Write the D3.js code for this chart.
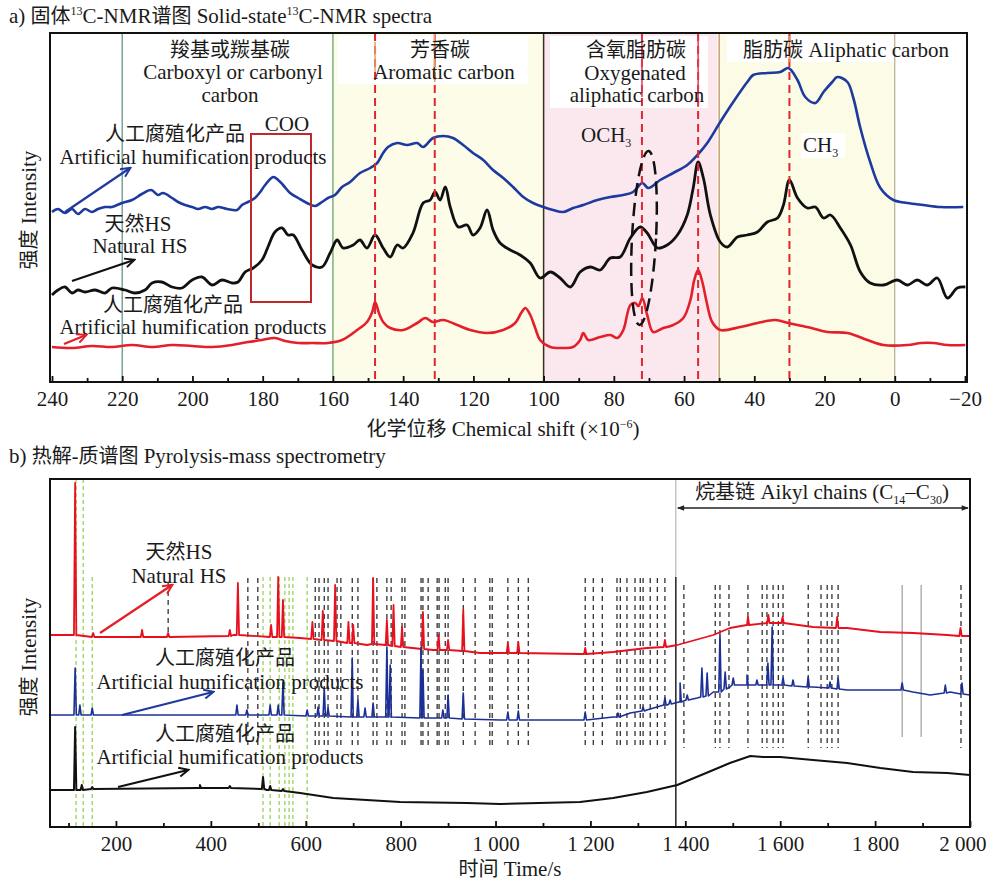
<!DOCTYPE html>
<html>
<head>
<meta charset="utf-8">
<script src="https://cdn.jsdelivr.net/npm/d3@7"></script>
<style>
  body { margin: 0; background: #fff; }
  svg { font-family: "Liberation Serif", "Noto Sans CJK SC", serif; font-size: 21px; }
  text { fill: #1a1a1a; }
</style>
</head>
<body>
<div id="chart"></div>
<script>
// ---------- a) solid-state 13C-NMR, [ppm, intensity] ----------
const nmrArtificialTop = [[240.0,170],[238.3,173],[236.3,169],[234.3,173],[232.6,168],[230.6,173],[228.6,170],[226.9,173],[224.9,175],[222.9,175],[220.1,179],[217.2,182],[214.4,188],[211.8,192],[209.8,187],[208.4,189],[205.8,184],[204.1,180],[202.1,177],[200.1,175],[198.4,173],[196.4,175],[194.4,173],[192.7,175],[190.1,173],[187.3,172],[185.9,177],[184.2,180],[182.2,184],[180.7,190],[179.3,197],[177.0,205],[175.6,202],[174.2,197],[172.2,189],[169.9,184],[167.4,179],[165.1,176],[163.1,180],[161.4,184],[159.4,187],[157.4,195],[155.1,200],[152.3,209],[149.4,214],[147.4,219],[145.7,229],[144.3,235],[141.7,239],[138.9,237],[136.0,239],[134.3,235],[131.5,244],[128.6,246],[125.8,244],[122.9,237],[120.1,229],[117.2,222],[114.4,212],[111.5,204],[108.7,195],[105.8,185],[103.0,179],[100.1,175],[97.3,172],[94.4,170],[91.6,174],[88.7,177],[84.7,182],[81.0,185],[77.3,187],[74.5,190],[71.9,199],[70.2,194],[66.8,202],[63.1,209],[59.1,217],[56.2,227],[53.4,239],[49.7,260],[46.0,280],[42.0,300],[40.3,307],[36.3,309],[32.6,310],[30.3,314],[27.7,302],[25.5,285],[22.6,279],[20.3,290],[17.8,300],[16.4,305],[13.5,300],[11.8,284],[9.8,254],[7.0,220],[4.1,194],[0.4,182],[-3.6,179],[-8.1,177],[-13.0,175],[-19.5,175]];

const nmrNatural = [[240.0,87],[238.3,92],[236.3,95],[234.3,89],[232.6,92],[230.6,90],[227.7,92],[224.9,89],[222.9,94],[219.2,92],[216.4,89],[213.5,92],[211.5,99],[208.7,100],[205.8,95],[203.0,94],[200.1,102],[197.3,105],[194.4,97],[191.6,102],[188.7,99],[187.0,100],[185.0,110],[182.7,114],[180.2,122],[178.5,135],[176.5,150],[174.5,154],[172.8,147],[171.3,147],[168.8,132],[165.9,117],[163.1,115],[160.8,129],[158.8,142],[157.1,134],[154.2,137],[152.3,142],[150.3,134],[148.0,147],[145.7,134],[143.7,125],[141.7,137],[140.0,134],[137.2,149],[134.3,179],[132.3,182],[130.9,190],[129.5,182],[128.0,195],[126.6,175],[124.3,155],[121.8,157],[120.1,147],[118.1,154],[116.1,172],[114.4,152],[112.4,139],[109.5,132],[106.7,127],[103.8,119],[101.0,104],[98.1,110],[95.3,104],[92.4,95],[89.6,110],[86.7,115],[83.9,112],[81.0,124],[78.2,125],[75.3,144],[72.5,155],[70.5,149],[67.6,134],[64.8,137],[61.9,147],[59.1,167],[57.4,194],[56.0,220],[54.5,204],[52.5,167],[49.7,140],[47.7,135],[44.8,145],[42.0,147],[39.1,150],[36.3,160],[33.4,164],[31.7,177],[30.0,202],[27.7,184],[24.9,174],[22.6,175],[20.3,164],[18.3,167],[15.5,154],[12.6,137],[9.8,110],[7.0,99],[3.2,97],[-0.7,102],[-3.6,97],[-6.4,102],[-9.3,97],[-12.1,104],[-15.0,84],[-17.8,94],[-20.1,95]];

const nmrArtificialLow = [[240.0,35],[234.3,34],[228.6,36],[222.9,35],[217.2,37],[211.5,35],[205.8,37],[200.1,36],[194.4,35],[188.7,37],[184.2,40],[180.2,42],[176.5,44],[173.6,41],[169.9,39],[165.9,39],[161.4,39],[157.4,42],[153.1,52],[150.3,60],[148.8,70],[148.0,80],[146.8,68],[145.7,60],[143.7,54],[140.0,52],[136.0,59],[133.7,64],[131.5,60],[128.6,62],[124.6,57],[120.9,52],[116.1,49],[111.5,52],[108.1,59],[106.4,69],[105.2,74],[103.8,67],[102.4,54],[101.0,42],[98.1,35],[94.4,34],[91.6,35],[89.6,42],[88.7,49],[87.3,42],[83.9,45],[81.0,47],[79.0,44],[77.3,52],[75.3,77],[73.9,79],[73.0,76],[71.9,84],[70.5,67],[68.8,50],[65.9,54],[63.1,57],[60.2,64],[58.2,82],[57.1,102],[56.0,112],[54.8,100],[53.7,82],[52.0,60],[49.7,52],[44.0,55],[39.1,59],[34.0,62],[30.3,59],[24.9,55],[19.2,50],[13.5,49],[7.8,42],[3.2,37],[-3.6,37],[-7.5,39],[-11.0,39],[-15.0,37],[-20.1,37]];

const nmrPeakLines = [148, 131, 72, 56, 30];
const nmrRegionLines = [220, 160, 100, 50, 0];
const nmrTicks = [240, 220, 200, 180, 160, 140, 120, 100, 80, 60, 40, 20, 0, -20];
const nmrTickLabels = ["240", "220", "200", "180", "160", "140", "120", "100", "80", "60", "40", "20", "0", "\u221220"];
const nmrMinorTicks = [230, 210, 190, 170, 150, 130, 110, 90, 70, 50, 30, 10, -10];

// ---------- b) pyrolysis-mass spectrometry ----------
// baselines [time, intensity] and peaks [time, base, top]
const pyNaturalBase = [[61,192],[166,190],[272,190],[447,192],[588,189],[729,182],[868,177],[967,174],[1178,173],[1248,175],[1319,179],[1383,182],[1459,192],[1494,199],[1530,202],[1600,204],[1669,200],[1741,199],[1811,195],[1880,194],[1952,192],[2000,191]];
const pyNaturalPeaks = [[114,192,344],[152,190,194],[255,190,197],[310,190,194],[440,191,197],[457,192,244],[527,190,202],[542,190,250],[552,190,227],[614,188,205],[636,187,216],[662,186,242],[690,184,205],[700,184,202],[742,183,249],[771,182,207],[785,181,222],[803,180,200],[847,178,215],[880,177,192],[900,177,187],[932,176,217],[1026,174,184],[1048,174,185],[1189,173,179],[1357,180,187],[1532,202,210],[1575,204,212],[1605,204,210],[1720,199,210],[1980,191,199]];

const pyArtificialBase = [[61,112],[447,112],[700,110],[1010,107],[1178,107],[1248,110],[1284,114],[1319,117],[1362,122],[1389,125],[1425,129],[1459,135],[1494,140],[1530,142],[1600,142],[1669,140],[1741,137],[1811,137],[1880,135],[1916,132],[1958,135],[2000,132]];
const pyArtificialPeaks = [[114,112,159],[124,112,122],[150,112,119],[455,112,122],[476,112,117],[525,112,122],[542,112,122],[552,112,145],[603,111,117],[626,111,120],[639,111,139],[647,111,119],[698,110,169],[710,110,127],[725,110,119],[742,110,124],[771,110,180],[778,110,162],[843,109,180],[847,109,157],[889,109,117],[900,109,132],[932,108,134],[1026,107,115],[1048,107,116],[1189,107,115],[1258,110,114],[1311,116,120],[1357,122,129],[1368,123,127],[1389,125,144],[1404,127,132],[1435,130,159],[1446,131,154],[1473,135,192],[1484,138,155],[1501,142,149],[1530,142,152],[1551,142,147],[1574,142,164],[1583,142,200],[1606,142,149],[1627,141,147],[1659,140,150],[1705,139,145],[1722,138,149],[1857,137,144],[1948,134,142],[1983,133,144]];

const pyBlackBase = [[61,37],[377,39],[518,37],[588,34],[658,29],[799,25],[940,24],[1010,23],[1178,25],[1248,29],[1319,35],[1383,42],[1459,57],[1494,64],[1537,71],[1564,70],[1600,70],[1669,67],[1741,64],[1811,59],[1880,55],[1952,54],[2000,52]];
const pyBlackPeaks = [[114,37,100],[128,37,42],[150,38,40],[377,39,42],[440,39,41],[510,38,50],[525,37,41],[552,36,38]];

const pyMarkers = [478, 499, 620, 628, 639, 647, 666, 674, 698, 710, 742, 750, 771, 780, 803, 809, 843, 847, 858, 877, 881, 894, 900, 932, 957, 988, 993, 1026, 1048, 1069, 1189, 1206, 1225, 1256, 1263, 1277, 1294, 1305, 1311, 1326, 1341, 1357];
const pyAlkylMarkers = [1397, 1463, 1473, 1492, 1532, 1562, 1572, 1585, 1596, 1606, 1659, 1686, 1699, 1709, 1722, 1981];
const pyGreyMarkers = [1857, 1897];
const pyShortMarkers = [310];
const pyGreenFull = [116, 131];
const pyGreenLines = [150, 510, 525, 544, 556, 565, 573, 603];
const pyAlkylStart = 1380;
const pyTicks = [200, 400, 600, 800, 1000, 1200, 1400, 1600, 1800, 2000];
const pyTickLabels = ["200", "400", "600", "800", "1 000", "1 200", "1 400", "1 600", "1 800", "2 000"];
const pyMinorTicks = [100, 300, 500, 700, 900, 1100, 1300, 1500, 1700, 1900];

// ---------- svg ----------
const width = 988, height = 883;
const svg = d3.select("#chart").append("svg")
  .attr("width", width)
  .attr("height", height);

// arrow markers
const defs = svg.append("defs");
[["blue", "#1e3a9e"], ["black", "#111"], ["red", "#e3202a"]].forEach(([n, c]) => {
  defs.append("marker")
    .attr("id", "arrow-" + n)
    .attr("viewBox", "0 0 12 12")
    .attr("refX", 10).attr("refY", 6)
    .attr("markerWidth", 12).attr("markerHeight", 12)
    .attr("markerUnits", "userSpaceOnUse")
    .attr("orient", "auto")
    .append("path")
    .attr("d", "M1,1.5 L10.5,6 L1,10.5")
    .attr("fill", "none")
    .attr("stroke", c)
    .attr("stroke-width", 2);
});
defs.append("marker")
  .attr("id", "tri")
  .attr("viewBox", "0 0 10 10")
  .attr("refX", 9).attr("refY", 5)
  .attr("markerWidth", 9).attr("markerHeight", 7)
  .attr("markerUnits", "userSpaceOnUse")
  .attr("orient", "auto-start-reverse")
  .append("path")
  .attr("d", "M0,1 L10,5 L0,9 Z")
  .attr("fill", "#222");

// text helper: segments [text, kind] where kind = cn | sup | sub
function label(parent, x, y, anchor, segs) {
  const t = parent.append("text").attr("x", x).attr("y", y).attr("text-anchor", anchor);
  let shift = 0;
  segs.forEach(([s, kind]) => {
    const target = kind === "sup" ? -8 : kind === "sub" ? 5 : 0;
    const ts = t.append("tspan").text(s).attr("dy", target - shift);
    shift = target;
    if (kind === "cn") ts.attr("font-size", 20);
    if (kind === "sup" || kind === "sub") ts.attr("font-size", 12);
  });
  return t;
}

function arrow(parent, x1, y1, x2, y2, name, color) {
  parent.append("line")
    .attr("x1", x1).attr("y1", y1).attr("x2", x2).attr("y2", y2)
    .attr("stroke", color).attr("stroke-width", 2.2)
    .attr("marker-end", `url(#arrow-${name})`);
}

// ================= panel a =================
const a = svg.append("g");
const aLeft = 50, aRight = 967, aTop = 33, aBottom = 382;
const xA = d3.scaleLinear().domain([240, -20]).range([52, 965]);
const yA = d3.scaleLinear().domain([0, 349]).range([aBottom, aTop]);

label(a, 9, 23, "start", [["a) "], ["固体", "cn"], ["13", "sup"], ["C-NMR"], ["谱图", "cn"], [" Solid-state"], ["13", "sup"], ["C-NMR spectra"]]);

// shaded regions
a.append("rect").attr("x", xA(160)).attr("y", aTop).attr("width", xA(100) - xA(160)).attr("height", aBottom - aTop).attr("fill", "#fcfce9");
a.append("rect").attr("x", xA(100)).attr("y", aTop).attr("width", xA(50.5) - xA(100)).attr("height", aBottom - aTop).attr("fill", "#fbe8ef");
a.append("rect").attr("x", xA(50)).attr("y", aTop).attr("width", xA(0) - xA(50)).attr("height", aBottom - aTop).attr("fill", "#fbfbe6");

// white label boxes
[[338, 36, 190, 48], [550, 36, 158, 72], [727, 36, 168, 26], [801, 133, 44, 25]].forEach(([x, y, w, h]) => {
  a.append("rect").attr("x", x).attr("y", y).attr("width", w).attr("height", h).attr("fill", "#fff");
});

// region boundary lines
const regionColors = ["#7aa39a", "#7cb07c", "#3d2b1f", "#c8a070", "#a89a80"];
a.selectAll(".region")
  .data(nmrRegionLines)
  .enter()
  .append("line")
  .attr("x1", d => xA(d)).attr("x2", d => xA(d))
  .attr("y1", aTop).attr("y2", aBottom)
  .attr("stroke", (d, i) => regionColors[i])
  .attr("stroke-width", (d, i) => i === 4 ? 1 : 1.5);

// spectra
const nmrLine = d3.line()
  .x(d => xA(d[0]))
  .y(d => yA(d[1]))
  .curve(d3.curveCatmullRom.alpha(0.5));

[[nmrArtificialTop, "#1e3a9e", 2.6], [nmrNatural, "#111", 2.8], [nmrArtificialLow, "#e3202a", 2.6]].forEach(([data, c, w]) => {
  a.append("path")
    .attr("d", nmrLine(data))
    .attr("fill", "none")
    .attr("stroke", c)
    .attr("stroke-width", w)
    .attr("stroke-linejoin", "round");
});

// red dashed peak lines
a.selectAll(".peak")
  .data(nmrPeakLines)
  .enter()
  .append("line")
  .attr("x1", d => xA(d)).attr("x2", d => xA(d))
  .attr("y1", aTop).attr("y2", aBottom)
  .attr("stroke", "#e0262e")
  .attr("stroke-width", 2)
  .attr("stroke-dasharray", "8,5");

// short solid marks at the top of the peak lines
const topMarks = [[148, 42, 72, "#e8a060"], [131, 33, 82, "#e8a060"], [72, 33, 97, "#e33a5a"], [56, 33, 107, "#e33a5a"], [30, 36, 62, "#e88a40"]];
topMarks.forEach(([p, y1, y2, c]) => {
  a.append("line").attr("x1", xA(p)).attr("x2", xA(p)).attr("y1", y1).attr("y2", y2)
    .attr("stroke", c).attr("stroke-width", 1.5);
});

// COO box and OCH3 ellipse
a.append("rect").attr("x", 251).attr("y", 134).attr("width", 60).attr("height", 168)
  .attr("fill", "none").attr("stroke", "#c0282d").attr("stroke-width", 2);
a.append("ellipse")
  .attr("cx", 644).attr("cy", 238).attr("rx", 12).attr("ry", 87)
  .attr("transform", "rotate(3 644 238)")
  .attr("fill", "none").attr("stroke", "#111").attr("stroke-width", 2.5)
  .attr("stroke-dasharray", "13,7");

// region labels
label(a, 230, 57, "middle", [["羧基或羰基碳", "cn"]]);
label(a, 233, 79, "middle", [["Carboxyl or carbonyl"]]);
label(a, 230, 102, "middle", [["carbon"]]);
label(a, 440, 57, "middle", [["芳香碳", "cn"]]);
label(a, 444, 79, "middle", [["Aromatic carbon"]]);
label(a, 636, 57, "middle", [["含氧脂肪碳", "cn"]]);
label(a, 635, 80, "middle", [["Oxygenated"]]);
label(a, 637, 102, "middle", [["aliphatic carbon"]]);
label(a, 846, 57, "middle", [["脂肪碳", "cn"], [" Aliphatic carbon"]]);
label(a, 287, 131, "middle", [["COO"]]);
label(a, 581, 142, "start", [["OCH"], ["3", "sub"]]);
label(a, 803, 152, "start", [["CH"], ["3", "sub"]]);

// series labels and arrows
label(a, 175, 141, "middle", [["人工腐殖化产品", "cn"]]);
label(a, 193, 164, "middle", [["Artificial humification products"]]);
label(a, 138, 231, "middle", [["天然", "cn"], ["HS"]]);
label(a, 140, 253, "middle", [["Natural HS"]]);
label(a, 173, 312, "middle", [["人工腐殖化产品", "cn"]]);
label(a, 193, 334, "middle", [["Artificial humification products"]]);
arrow(a, 65, 212, 130, 168, "blue", "#1e3a9e");
arrow(a, 72, 281, 134, 260, "black", "#111");
arrow(a, 64, 344, 86, 335, "red", "#e3202a");

// frame and axis
a.append("rect").attr("x", aLeft).attr("y", aTop).attr("width", aRight - aLeft).attr("height", aBottom - aTop)
  .attr("fill", "none").attr("stroke", "#111").attr("stroke-width", 2);

a.append("g").attr("transform", `translate(0,${aBottom})`)
  .call(d3.axisBottom(xA).tickValues(nmrTicks).tickFormat((d, i) => nmrTickLabels[i]).tickSize(-6).tickPadding(9));
a.append("g").attr("transform", `translate(0,${aBottom})`)
  .call(d3.axisBottom(xA).tickValues(nmrMinorTicks).tickFormat("").tickSize(-4));

label(a, 503, 436, "middle", [["化学位移", "cn"], [" Chemical shift (×10"], ["\u22126", "sup"], [")"]]);
label(a, 0, 0, "middle", [["强度", "cn"], [" Intensity"]])
  .attr("transform", "translate(36,210) rotate(-90)");

// ================= panel b =================
const b = svg.append("g");
const bLeft = 50, bRight = 970, bTop = 479, bBottom = 827;
const xB = d3.scaleLinear().domain([61, 2000]).range([bLeft, bRight]);
const yB = d3.scaleLinear().domain([0, 348]).range([bBottom, bTop]);

label(b, 9, 463, "start", [["b) "], ["热解-质谱图", "cn"], [" Pyrolysis-mass spectrometry"]]);

// marker lines
function vlines(data, v1, v2, color, dash, w) {
  b.append("g").selectAll("line")
    .data(data)
    .enter()
    .append("line")
    .attr("x1", d => xB(d)).attr("x2", d => xB(d))
    .attr("y1", yB(v1)).attr("y2", yB(v2))
    .attr("stroke", color)
    .attr("stroke-width", w)
    .attr("stroke-dasharray", dash);
}
vlines(pyMarkers, 249, 79, "#222", "5,4", 1.2);
vlines(pyAlkylMarkers, 242, 79, "#222", "5,4", 1.2);
vlines(pyShortMarkers, 245, 190, "#222", "5,4", 1.2);
vlines(pyGreyMarkers, 242, 90, "#888", null, 1);
vlines(pyGreenFull, 348, 0, "#9bd35a", "4,3", 1.3);
vlines(pyGreenLines, 250, 0, "#9bd35a", "4,3", 1.3);

// alkyl chain boundary
b.append("line").attr("x1", xB(pyAlkylStart)).attr("x2", xB(pyAlkylStart))
  .attr("y1", bTop).attr("y2", yB(250)).attr("stroke", "#aaa").attr("stroke-width", 1);
b.append("line").attr("x1", xB(pyAlkylStart)).attr("x2", xB(pyAlkylStart))
  .attr("y1", yB(250)).attr("y2", bBottom).attr("stroke", "#222").attr("stroke-width", 1.5);

// spectra: baseline plus narrow peaks
function series(base, peaks) {
  const pts = base.slice();
  peaks.forEach(([t, lo, hi]) => {
    pts.push([t - 2.5, lo], [t, hi], [t + 2.5, lo]);
  });
  return pts.sort((p, q) => p[0] - q[0]);
}
const pyLine = d3.line()
  .x(d => xB(d[0]))
  .y(d => yB(d[1]));

[[pyNaturalBase, pyNaturalPeaks, "#e8101c", 1.8], [pyArtificialBase, pyArtificialPeaks, "#1c2f96", 1.6], [pyBlackBase, pyBlackPeaks, "#111", 2]].forEach(([base, peaks, c, w]) => {
  b.append("path")
    .attr("d", pyLine(series(base, peaks)))
    .attr("fill", "none")
    .attr("stroke", c)
    .attr("stroke-width", w)
    .attr("stroke-linejoin", "round");
});

// alkyl chain annotation
b.append("line")
  .attr("x1", xB(pyAlkylStart) + 2).attr("x2", bRight - 2)
  .attr("y1", 508).attr("y2", 508)
  .attr("stroke", "#222").attr("stroke-width", 1.5)
  .attr("marker-start", "url(#tri)").attr("marker-end", "url(#tri)");
label(b, 822, 499, "middle", [["烷基链", "cn"], [" Aikyl chains (C"], ["14", "sub"], ["\u2013C"], ["30", "sub"], [")"]]);

// series labels and arrows
label(b, 179, 559, "middle", [["天然", "cn"], ["HS"]]);
label(b, 179, 583, "middle", [["Natural HS"]]);
label(b, 225, 665, "middle", [["人工腐殖化产品", "cn"]]);
label(b, 230, 689, "middle", [["Artificial humification products"]]);
label(b, 225, 741, "middle", [["人工腐殖化产品", "cn"]]);
label(b, 230, 764, "middle", [["Artificial humification products"]]);
arrow(b, 100, 633, 172, 585, "red", "#e3202a");
arrow(b, 122, 715, 213, 692, "blue", "#1e3a9e");
arrow(b, 118, 787, 188, 770, "black", "#111");

// frame and axis
b.append("rect").attr("x", bLeft).attr("y", bTop).attr("width", bRight - bLeft).attr("height", bBottom - bTop)
  .attr("fill", "none").attr("stroke", "#111").attr("stroke-width", 2);

b.append("g").attr("transform", `translate(0,${bBottom})`)
  .call(d3.axisBottom(xB).tickValues(pyTicks).tickFormat((d, i) => pyTickLabels[i]).tickSize(-6).tickPadding(9));
b.append("g").attr("transform", `translate(0,${bBottom})`)
  .call(d3.axisBottom(xB).tickValues(pyMinorTicks).tickFormat("").tickSize(-4));

label(b, 510, 876, "middle", [["时间", "cn"], [" Time/s"]]);
label(b, 0, 0, "middle", [["强度", "cn"], [" Intensity"]])
  .attr("transform", "translate(36,657) rotate(-90)");

// axis styling
svg.selectAll(".domain").remove();
svg.selectAll(".tick line").attr("stroke", "#111").attr("stroke-width", 1.8);
svg.selectAll(".tick text")
  .attr("font-family", "'Liberation Serif', serif")
  .attr("font-size", 21)
  .attr("fill", "#1a1a1a");
// keep the last time label inside the picture
b.selectAll(".tick text").filter(d => d === 2000).attr("text-anchor", "end").attr("dx", 16);
</script>
</body>
</html>
